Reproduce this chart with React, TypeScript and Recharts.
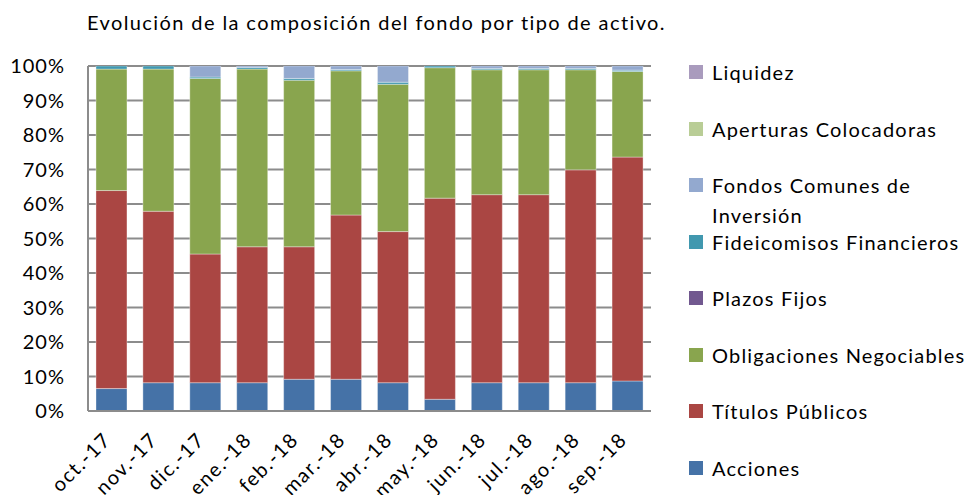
import { BarChart, Bar, XAxis, YAxis, CartesianGrid } from 'recharts';

const months = ['oct.-17', 'nov.-17', 'dic.-17', 'ene.-18', 'feb.-18', 'mar.-18', 'abr.-18', 'may.-18', 'jun.-18', 'jul.-18', 'ago.-18', 'sep.-18'];

const acciones = [6.5, 8.2, 8.2, 8.2, 9.2, 9.2, 8.2, 3.4, 8.2, 8.2, 8.2, 8.7];
const titulosPublicos = [57.4, 49.7, 37.3, 39.4, 38.4, 47.6, 43.8, 58.3, 54.5, 54.5, 61.7, 64.9];
const obligaciones = [35.2, 41.2, 50.9, 51.5, 48.3, 41.8, 42.7, 37.8, 36.2, 36.2, 29.0, 24.8];
const plazosFijos = [0, 0, 0, 0, 0, 0, 0, 0, 0, 0, 0, 0];
const fideicomisos = [0.9, 0.9, 0.4, 0.5, 0.5, 0.4, 0.6, 0.5, 0.4, 0.4, 0.4, 0.4];
const fondosComunes = [0, 0, 3.2, 0.4, 3.6, 1.0, 4.7, 0, 0.7, 0.7, 0.7, 1.2];
const aperturas = [0, 0, 0, 0, 0, 0, 0, 0, 0, 0, 0, 0];
const liquidez = [0, 0, 0, 0, 0, 0, 0, 0, 0, 0, 0, 0];

const yTicks = [0, 10, 20, 30, 40, 50, 60, 70, 80, 90, 100];

// bottom to top, as stacked
const series = [
  { key: 'acc', name: 'Acciones', color: '#4572A7', values: acciones },
  { key: 'tp', name: 'Títulos Públicos', color: '#AA4643', values: titulosPublicos },
  { key: 'on', name: 'Obligaciones Negociables', color: '#89A54E', values: obligaciones },
  { key: 'pf', name: 'Plazos Fijos', color: '#71588F', values: plazosFijos },
  { key: 'ff', name: 'Fideicomisos Financieros', color: '#4198AF', values: fideicomisos },
  { key: 'fci', name: 'Fondos Comunes de Inversión', color: '#93A9CF', values: fondosComunes },
  { key: 'ap', name: 'Aperturas Colocadoras', color: '#B9CD96', values: aperturas },
  { key: 'liq', name: 'Liquidez', color: '#A99BBD', values: liquidez },
];

const data = months.map((m, i) => {
  const row: Record<string, string | number> = { month: m };
  series.forEach((s) => {
    row[s.key] = s.values[i];
  });
  return row;
});

const font = 'Lato, "Open Sans", sans-serif';

const XTick = ({ x, y, payload }: any) => (
  <text
    x={x}
    y={y}
    dx={-15}
    dy={16}
    transform={`rotate(-45, ${x}, ${y})`}
    textAnchor="end"
    fontFamily={font}
    fontSize={20}
    letterSpacing={1.5}
    fill="#000"
  >
    {payload.value}
  </text>
);

export default function App() {
  return (
    <div
      style={{
        position: 'absolute',
        left: 0,
        top: 0,
        width: 971,
        height: 495,
        overflow: 'hidden',
        background: '#fff',
        fontFamily: font,
      }}
    >
      <div
        style={{
          position: 'absolute',
          left: 87,
          top: 10,
          fontSize: 20,
          color: '#000',
          whiteSpace: 'nowrap',
          letterSpacing: 1.4,
        }}
      >
        Evolución de la composición del fondo por tipo de activo.
      </div>
      <BarChart
        width={971}
        height={495}
        data={data}
        margin={{ top: 66, right: 320, bottom: 0, left: 0 }}
        barCategoryGap="17%"
      >
        <CartesianGrid vertical={false} stroke="#8c8c8c" strokeWidth={2} />
        <XAxis
          dataKey="month"
          height={84}
          interval={0}
          tickLine={false}
          axisLine={{ stroke: '#8c8c8c', strokeWidth: 2 }}
          tick={<XTick />}
        />
        <YAxis
          width={88}
          domain={[0, 100]}
          ticks={yTicks}
          allowDataOverflow
          tickFormatter={(v) => `${v}%`}
          tickLine={false}
          tickSize={0}
          tickMargin={23}
          axisLine={{ stroke: '#8c8c8c', strokeWidth: 2 }}
          tick={{ fill: '#000', fontSize: 20, fontFamily: font, letterSpacing: 1 }}
        />
        {series.map((s) => (
          <Bar
            key={s.key}
            dataKey={s.key}
            name={s.name}
            stackId="a"
            fill={s.color}
            stroke="#ffffff"
            strokeOpacity={0.35}
            strokeWidth={1}
            isAnimationActive={false}
          />
        ))}
      </BarChart>
      {[...series].reverse().map((s, i) => (
        <div
          key={s.key}
          style={{
            position: 'absolute',
            left: 689,
            top: 57 + i * 56.5,
            width: 282,
            display: 'flex',
            alignItems: 'flex-start',
            fontSize: 20,
            lineHeight: '30px',
            color: '#000',
            letterSpacing: 1.2,
          }}
        >
          <span
            style={{
              width: 14,
              height: 14,
              marginTop: 8,
              marginRight: 9,
              flexShrink: 0,
              background: s.color,
            }}
          />
          <span style={{ width: 262 }}>{s.name}</span>
        </div>
      ))}
    </div>
  );
}
